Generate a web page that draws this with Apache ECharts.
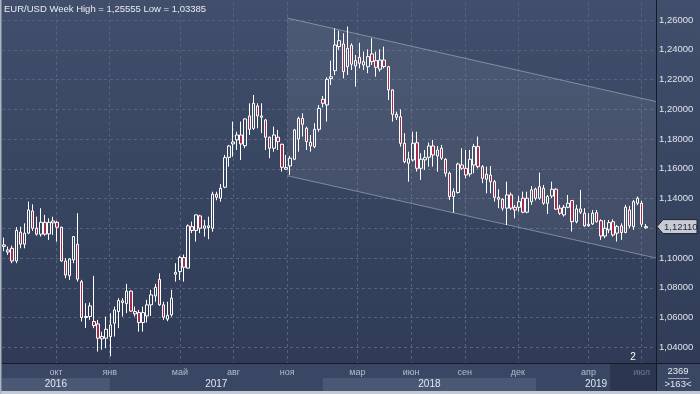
<!DOCTYPE html>
<html><head><meta charset="utf-8">
<script src="https://cdn.jsdelivr.net/npm/echarts/dist/echarts.min.js"></script>
<style>
html,body{margin:0;padding:0;}
#c{width:700px;height:394px;background:linear-gradient(#414f6c,#2e3a55);}
</style>
</head><body><div id="c"></div>
<script>
// ---- data ----
const firstWeek = '2016-07-04';
const open = [1.1078,1.1040,1.1065,1.0980,1.1174,1.1093,1.1167,1.1316,1.1200,1.1160,
1.1240,1.1162,1.1236,1.1240,1.1207,1.0980,1.0881,1.0987,1.1093,1.0841,
1.0607,1.0607,1.0573,1.0557,1.0457,1.0461,1.0472,1.0562,1.0640,1.0700,
1.0693,1.0777,1.0640,1.0633,1.0566,1.0611,1.0685,1.0745,1.0857,1.0685,
1.0589,1.0618,1.0891,1.0909,1.1003,1.0932,1.1211,1.1185,1.1283,1.1200,
1.1205,1.1200,1.1429,1.1402,1.1476,1.1677,1.1767,1.1794,1.1827,1.1755,
1.1955,1.1872,1.2022,1.1946,1.1928,1.1812,1.1738,1.1812,1.1765,1.1597,
1.1619,1.1664,1.1800,1.1939,1.1872,1.1778,1.1749,1.1865,1.2067,1.2029,
1.2206,1.2259,1.2421,1.2439,1.2286,1.2430,1.2291,1.2349,1.2298,1.2286,
1.2372,1.2327,1.2269,1.2331,1.2286,1.2130,1.1946,1.1950,1.1771,1.1637,
1.1659,1.1775,1.1603,1.1660,1.1677,1.1753,1.1686,1.1738,1.1664,1.1570,
1.1413,1.1440,1.1625,1.1603,1.1565,1.1625,1.1749,1.1614,1.1530,1.1558,
1.1513,1.1395,1.1395,1.1335,1.1424,1.1341,1.1341,1.1402,1.1308,1.1379,
1.1464,1.1402,1.1469,1.1368,1.1417,1.1462,1.1335,1.1290,1.1341,1.1386,
1.1244,1.1330,1.1301,1.1227,1.1229,1.1305,1.1251,1.1148,1.1189,1.1244,
1.1167,1.1216,1.1171,1.1323,1.1211,1.1368,1.1368,1.1203];
const close = [1.1088,1.1054,1.0980,1.1186,1.1093,1.1167,1.1323,1.1200,1.1160,1.1240,
1.1160,1.1240,1.1249,1.1207,1.0980,1.0886,1.0993,1.1144,1.0858,1.0600,
1.0600,1.0678,1.0545,1.0461,1.0472,1.0521,1.0550,1.0651,1.0714,1.0712,
1.0777,1.0643,1.0624,1.0566,1.0633,1.0685,1.0752,1.0803,1.0685,1.0602,
1.0615,1.0730,1.0904,1.1003,1.0938,1.1216,1.1185,1.1290,1.1200,1.1216,
1.1216,1.1429,1.1409,1.1469,1.1675,1.1753,1.1780,1.1827,1.1767,1.1935,
1.1865,1.2040,1.1955,1.1955,1.1812,1.1738,1.1827,1.1783,1.1610,1.1608,
1.1671,1.1861,1.1939,1.1899,1.1783,1.1753,1.1865,1.2006,1.2040,1.2201,
1.2219,1.2432,1.2461,1.2253,1.2410,1.2303,1.2327,1.2309,1.2320,1.2354,
1.2320,1.2282,1.2331,1.2287,1.2130,1.1966,1.1966,1.1771,1.1648,1.1667,
1.1771,1.1603,1.1664,1.1675,1.1753,1.1693,1.1726,1.1671,1.1570,1.1413,
1.1446,1.1632,1.1603,1.1558,1.1664,1.1749,1.1614,1.1536,1.1563,1.1513,
1.1408,1.1408,1.1335,1.1424,1.1335,1.1323,1.1379,1.1308,1.1402,1.1458,
1.1402,1.1480,1.1368,1.1413,1.1462,1.1328,1.1301,1.1341,1.1368,1.1244,
1.1330,1.1308,1.1216,1.1216,1.1301,1.1244,1.1148,1.1200,1.1238,1.1155,
1.1211,1.1171,1.1341,1.1216,1.1379,1.1402,1.1227,1.1211];
const low = [1.1045,1.1021,1.0965,1.0965,1.1065,1.1065,1.1160,1.1182,1.1150,1.1144,
1.1150,1.1122,1.1155,1.1110,1.0975,1.0864,1.0853,1.0965,1.0842,1.0573,
1.0530,1.0584,1.0528,1.0371,1.0383,1.0394,1.0339,1.0472,1.0528,1.0607,
1.0629,1.0640,1.0607,1.0505,1.0505,1.0566,1.0611,1.0706,1.0679,1.0584,
1.0575,1.0605,1.0841,1.0853,1.0841,1.0930,1.1167,1.1110,1.1167,1.1144,
1.1126,1.1177,1.1388,1.1379,1.1469,1.1614,1.1681,1.1726,1.1659,1.1738,
1.1827,1.1861,1.1872,1.1839,1.1726,1.1671,1.1715,1.1726,1.1581,1.1592,
1.1558,1.1658,1.1715,1.1816,1.1726,1.1715,1.1738,1.1849,1.2013,1.1917,
1.2163,1.2230,1.2398,1.2208,1.2230,1.2264,1.2152,1.2275,1.2264,1.2242,
1.2298,1.2219,1.2253,1.2275,1.2062,1.1917,1.1928,1.1749,1.1637,1.1513,
1.1648,1.1581,1.1525,1.1592,1.1614,1.1614,1.1580,1.1659,1.1547,1.1391,
1.1305,1.1433,1.1592,1.1536,1.1547,1.1570,1.1603,1.1503,1.1435,1.1435,
1.1379,1.1335,1.1318,1.1222,1.1322,1.1267,1.1312,1.1301,1.1301,1.1357,
1.1387,1.1391,1.1357,1.1296,1.1402,1.1323,1.1290,1.1278,1.1335,1.1178,
1.1233,1.1296,1.1211,1.1211,1.1222,1.1238,1.1122,1.1133,1.1167,1.1144,
1.1110,1.1122,1.1167,1.1200,1.1189,1.1355,1.1208,1.1198];
const high = [1.1137,1.1077,1.1083,1.1208,1.1211,1.1233,1.1379,1.1361,1.1278,1.1335,
1.1290,1.1267,1.1278,1.1249,1.1211,1.0999,1.0999,1.1148,1.1301,1.0853,
1.0696,1.0700,1.0880,1.0584,1.0505,1.0606,1.0629,1.0673,1.0730,1.0730,
1.0826,1.0783,1.0673,1.0651,1.0673,1.0719,1.0786,1.0826,1.0897,1.0706,
1.0706,1.0786,1.0965,1.1014,1.1023,1.1226,1.1245,1.1290,1.1290,1.1256,
1.1278,1.1446,1.1446,1.1498,1.1693,1.1760,1.1917,1.1849,1.1917,1.1939,
1.2040,1.2096,1.2040,1.2040,1.1935,1.1816,1.1883,1.1861,1.1767,1.1693,
1.1686,1.1868,1.1950,1.1973,1.1883,1.1827,1.1906,1.2029,1.2089,1.2215,
1.2327,1.2544,1.2528,1.2511,1.2556,1.2443,1.2365,1.2447,1.2387,1.2403,
1.2477,1.2387,1.2403,1.2421,1.2291,1.2134,1.1984,1.1999,1.1839,1.1715,
1.1849,1.1849,1.1704,1.1726,1.1776,1.1794,1.1753,1.1760,1.1671,1.1581,
1.1469,1.1641,1.1738,1.1726,1.1726,1.1767,1.1816,1.1625,1.1614,1.1618,
1.1525,1.1462,1.1402,1.1513,1.1440,1.1357,1.1417,1.1446,1.1446,1.1484,
1.1473,1.1574,1.1491,1.1424,1.1513,1.1469,1.1357,1.1357,1.1424,1.1390,
1.1357,1.1458,1.1335,1.1301,1.1323,1.1323,1.1260,1.1256,1.1256,1.1260,
1.1222,1.1233,1.1357,1.1350,1.1390,1.1413,1.1385,1.1228];
const monthTicks = [['2016-10-01','окт'],['2017-01-01','янв'],['2017-05-01','май'],['2017-08-01','авг'],
  ['2017-11-01','ноя'],['2018-03-01','мар'],['2018-06-01','июн'],['2018-09-01','сен'],
  ['2018-12-01','дек'],['2019-04-01','апр'],['2019-07-01','июл']];
const yearTicks = [['2016','2016-01-01'],['2017','2017-01-01'],['2018','2018-01-01'],['2019','2019-01-01'],['','2020-01-01']];
const yMin = 1.02, yMax = 1.27345, yStep = 0.02;
const channelStart = '2017-11-01';
const channelUpper = [1.2613, 1.2052];
const channelLower = [1.1553, 1.1000];
const lastPrice = 1.12110;
const titleText = 'EUR/USD Week High = 1,25555 Low = 1,03385';
const emptySlots = 2;

// ---- build ----
const DAY = 864e5;
const T = s => Date.parse(s + 'T00:00:00Z');
const t0 = T(firstWeek);
const times = open.map((_, i) => t0 + i * 7 * DAY);
const xMin = t0 - 3.5 * DAY;
const xMax = xMin + (open.length + emptySlots) * 7 * DAY;
const candles = open.map((o, i) => [times[i], o, close[i], low[i], high[i]]);
const fmt = v => v.toFixed(5).replace('.', ',');
const FONT = '"Liberation Sans", Arial, sans-serif';

const chart = echarts.init(document.getElementById('c'), null, {renderer: 'canvas'});
chart.setOption({
  animation: false,
  backgroundColor: 'transparent',
  grid: {left: 2, right: 44, top: 0, bottom: 17, containLabel: false},
  xAxis: {type: 'time', min: xMin, max: xMax, axisLabel: {show: false}, axisTick: {show: false},
          axisLine: {show: false}, splitLine: {show: false}},
  yAxis: {type: 'value', position: 'right', min: yMin, max: yMax, interval: yStep,
          axisLine: {show: false}, axisTick: {show: false},
          axisLabel: {color: '#dfe3eb', fontSize: 9.5, fontFamily: FONT, margin: 3, showMinLabel: false, showMaxLabel: false,
                      formatter: v => fmt(v)},
          splitLine: {lineStyle: {color: '#56627f', type: [3, 3], width: 1}}},
  series: [
    {type: 'custom', silent: true, z: 1,
     data: [[T(channelStart), channelUpper[0]]],
     renderItem: (params, api) => {
       const a = api.coord([T(channelStart), channelUpper[0]]);
       const b = api.coord([xMax, channelUpper[1]]);
       const c = api.coord([xMax, channelLower[1]]);
       const d = api.coord([T(channelStart), channelLower[0]]);
       return {type: 'group', children: [
         {type: 'polygon', shape: {points: [a, b, c, d]}, style: {fill: 'rgba(255,255,255,0.065)'}},
         {type: 'line', shape: {x1: a[0], y1: a[1], x2: b[0], y2: b[1]}, style: {stroke: 'rgba(170,180,200,0.6)', lineWidth: 1}},
         {type: 'line', shape: {x1: d[0], y1: d[1], x2: c[0], y2: c[1]}, style: {stroke: 'rgba(170,180,200,0.6)', lineWidth: 1}}
       ]};
     }},
    {type: 'candlestick', z: 3, data: candles, encode: {x: 0, y: [1, 2, 3, 4]}, barWidth: 3,
     itemStyle: {color: 'rgba(0,0,0,0)', color0: '#a8294e', borderColor: '#ffffff', borderColor0: '#ffffff', borderWidth: 1},
     markLine: {silent: true, symbol: 'none', label: {show: false}, z: 1,
                lineStyle: {color: '#56627f', type: [3, 3], width: 1},
                data: monthTicks.map(m => ({xAxis: T(m[0])}))}}
  ]
});

// ---- overlays positioned through the axes ----
const px = t => chart.convertToPixel({xAxisIndex: 0}, t);
const py = v => chart.convertToPixel({yAxisIndex: 0}, v);
const gx0 = px(xMin), gx1 = px(xMax);
const g = [];
g.push({type: 'rect', z: 100, shape: {x: 0, y: 0, width: 656, height: 1}, style: {fill: '#414f6c'}});
g.push({type: 'rect', z: 100, shape: {x: 0, y: 364, width: 700, height: 28}, style: {fill: '#3a4764'}});
yearTicks.forEach((y, k) => {
  if (!y[0]) return;
  const a = Math.max(px(T(y[1])), gx0), b = Math.min(px(T(yearTicks[k + 1][1])), gx1);
  if (k % 2 === 0) g.push({type: 'rect', z: 101, shape: {x: a, y: 378, width: b - a, height: 13}, style: {fill: '#4b5875'}});
  g.push({type: 'text', z: 103, style: {text: y[0], x: (a + b) / 2, y: 384.5, align: 'center', verticalAlign: 'middle',
          fill: '#e3e7ee', font: '10px ' + FONT}});
});
g.push({type: 'rect', z: 102, shape: {x: gx1 - 46, y: 364, width: 46, height: 27}, style: {fill: '#2c3650'}});
monthTicks.forEach((m, k) => {
  const last = k === monthTicks.length - 1;
  g.push({type: 'text', z: 103, style: {text: m[1], x: px(T(m[0])), y: 372.5, align: 'center', verticalAlign: 'middle',
          fill: last ? '#6f7890' : '#b4bccb', font: '9px ' + FONT}});
});
g.push({type: 'rect', z: 104, shape: {x: 0, y: 363, width: 700, height: 1}, style: {fill: '#141a26'}});
g.push({type: 'rect', z: 104, shape: {x: gx1, y: 0, width: 1, height: 392}, style: {fill: '#141a26'}});
g.push({type: 'text', z: 105, style: {text: '2369', x: 678, y: 371.5, align: 'center', verticalAlign: 'middle', fill: '#e3e7ee', font: '9.5px ' + FONT}});
g.push({type: 'rect', z: 105, shape: {x: 668, y: 378, width: 21, height: 1}, style: {fill: '#9aa3b5'}});
g.push({type: 'text', z: 105, style: {text: '>163<', x: 678, y: 384.5, align: 'center', verticalAlign: 'middle', fill: '#e3e7ee', font: '9.5px ' + FONT}});
g.push({type: 'text', z: 105, style: {text: '2', x: 633, y: 357, align: 'center', verticalAlign: 'middle', fill: '#ffffff', font: '10px ' + FONT}});
const ly = py(lastPrice);
g.push({type: 'polygon', z: 106, shape: {points: [[gx1 + 1, ly], [gx1 + 7, ly - 7], [697, ly - 7], [697, ly + 7], [gx1 + 7, ly + 7]]},
        style: {fill: '#c6cbd5', stroke: '#1c2230', lineWidth: 1}});
g.push({type: 'text', z: 107, style: {text: fmt(lastPrice), x: gx1 + 8, y: ly + 0.5, align: 'left', verticalAlign: 'middle', fill: '#262b36', font: '9.5px ' + FONT}});
g.push({type: 'text', z: 105, style: {text: titleText, x: 4, y: 9, align: 'left', verticalAlign: 'middle', fill: '#e8ebf1', font: '9.5px ' + FONT}});
g.push({type: 'rect', z: 108, shape: {x: 0, y: 391, width: 700, height: 3}, style: {fill: '#c3c9d3'}});
g.push({type: 'rect', z: 108, shape: {x: 0, y: 0, width: 1.5, height: 394}, style: {fill: '#aeb5c2'}});
chart.setOption({graphic: g});
</script>
</body></html>
